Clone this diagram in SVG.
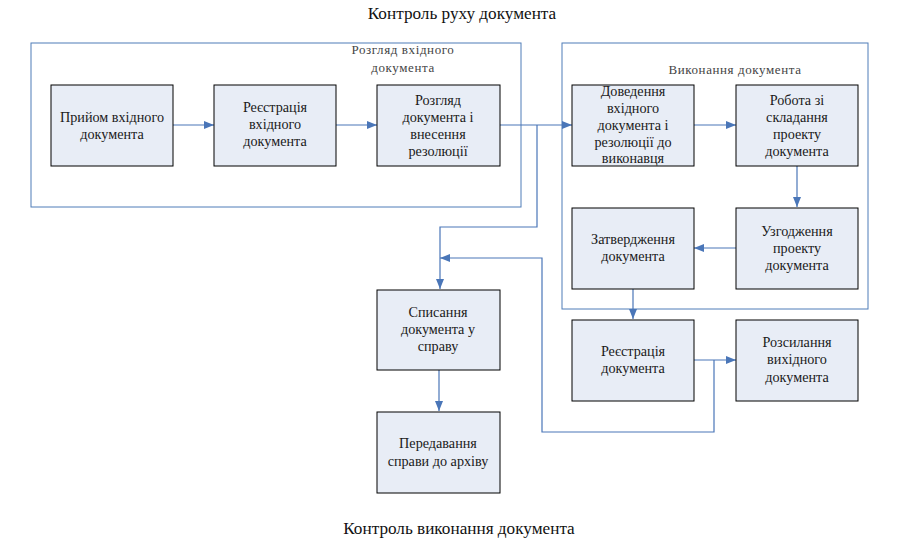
<svg xmlns="http://www.w3.org/2000/svg" width="898" height="557" viewBox="0 0 898 557">
<defs>
<style>
.node rect{fill:#E8EDF6;stroke:#000;stroke-width:1}
.node text{font-family:"Liberation Serif",serif;font-size:14.2px;fill:#1a1a1a;text-anchor:middle}
.cont{fill:none;stroke:#4F7DB8;stroke-width:1}
.clabel{font-family:"Liberation Serif",serif;font-size:13px;fill:#444;text-anchor:middle;letter-spacing:0.6px}
.title{font-family:"Liberation Serif",serif;font-size:17.2px;fill:#111;text-anchor:middle}
.conn path{fill:none;stroke:#4A76B8;stroke-width:1.2}
</style>
<marker id="ah" viewBox="0 0 10 10" refX="10" refY="5" markerWidth="10" markerHeight="10" markerUnits="userSpaceOnUse" orient="auto">
<path d="M0,1 L10,5 L0,9 z" fill="#4A76B8"/>
</marker>
</defs>
<rect width="898" height="557" fill="#fff"/>
<text class="title" x="462" y="19">Контроль руху документа</text>
<text class="title" x="459" y="534">Контроль виконання документа</text>

<g id="container-rozglyad">
<rect class="cont" x="31" y="43" width="490" height="164"/>
<text class="clabel" x="403" y="54">Розгляд вхідного</text>
<text class="clabel" x="403" y="72">документа</text>
</g>
<g id="container-vykonannya">
<rect class="cont" x="562" y="43" width="306" height="266"/>
<text class="clabel" x="735" y="74">Виконання документа</text>
</g>

<g class="conn" id="connectors">
<path d="M173,125 H214" marker-end="url(#ah)"/>
<path d="M336,125 H377" marker-end="url(#ah)"/>
<path d="M500,125 H572" marker-end="url(#ah)"/>
<path d="M537,125 V227 H440 V289" marker-end="url(#ah)"/>
<path d="M694,125 H736" marker-end="url(#ah)"/>
<path d="M797,166 V207" marker-end="url(#ah)"/>
<path d="M736,248 H694" marker-end="url(#ah)"/>
<path d="M633,289 V319" marker-end="url(#ah)"/>
<path d="M694,360 H736" marker-end="url(#ah)"/>
<path d="M714,360 V432 H542 V258 H440" marker-end="url(#ah)"/>
<path d="M439,370 V411" marker-end="url(#ah)"/>
</g>

<g class="node" id="n-pryiom">
<rect x="51" y="85" width="122" height="81"/>
<text x="112" y="122">Прийом вхідного</text>
<text x="112" y="139">документа</text>
</g>
<g class="node" id="n-reiestratsiia-vkh">
<rect x="214" y="85" width="122" height="81"/>
<text x="275" y="112">Реєстрація</text>
<text x="275" y="129">вхідного</text>
<text x="275" y="146">документа</text>
</g>
<g class="node" id="n-rozglyad">
<rect x="377" y="85" width="123" height="81"/>
<text x="438" y="105">Розгляд</text>
<text x="438" y="122">документа і</text>
<text x="438" y="139">внесення</text>
<text x="438" y="156">резолюції</text>
</g>
<g class="node" id="n-dovedennia">
<rect x="572" y="85" width="122" height="81"/>
<text x="633" y="96">Доведення</text>
<text x="633" y="113">вхідного</text>
<text x="633" y="130">документа і</text>
<text x="633" y="147">резолюції до</text>
<text x="633" y="163">виконавця</text>
</g>
<g class="node" id="n-robota">
<rect x="736" y="85" width="122" height="81"/>
<text x="797" y="105">Робота зі</text>
<text x="797" y="122">складання</text>
<text x="797" y="139">проекту</text>
<text x="797" y="156">документа</text>
</g>
<g class="node" id="n-zatverdzhennia">
<rect x="572" y="208" width="122" height="81"/>
<text x="633" y="244">Затвердження</text>
<text x="633" y="261">документа</text>
</g>
<g class="node" id="n-uzgodzhennia">
<rect x="736" y="208" width="122" height="81"/>
<text x="797" y="236">Узгодження</text>
<text x="797" y="253">проекту</text>
<text x="797" y="270">документа</text>
</g>
<g class="node" id="n-reiestratsiia-dok">
<rect x="572" y="320" width="122" height="81"/>
<text x="633" y="356">Реєстрація</text>
<text x="633" y="373">документа</text>
</g>
<g class="node" id="n-rozsylannia">
<rect x="736" y="320" width="122" height="81"/>
<text x="797" y="347">Розсилання</text>
<text x="797" y="364">вихідного</text>
<text x="797" y="382">документа</text>
</g>
<g class="node" id="n-spysannia">
<rect x="377" y="290" width="123" height="80"/>
<text x="438" y="317">Списання</text>
<text x="438" y="334">документа у</text>
<text x="438" y="351">справу</text>
</g>
<g class="node" id="n-peredavannia">
<rect x="377" y="412" width="123" height="81"/>
<text x="438" y="448">Передавання</text>
<text x="438" y="466">справи до архіву</text>
</g>
</svg>
